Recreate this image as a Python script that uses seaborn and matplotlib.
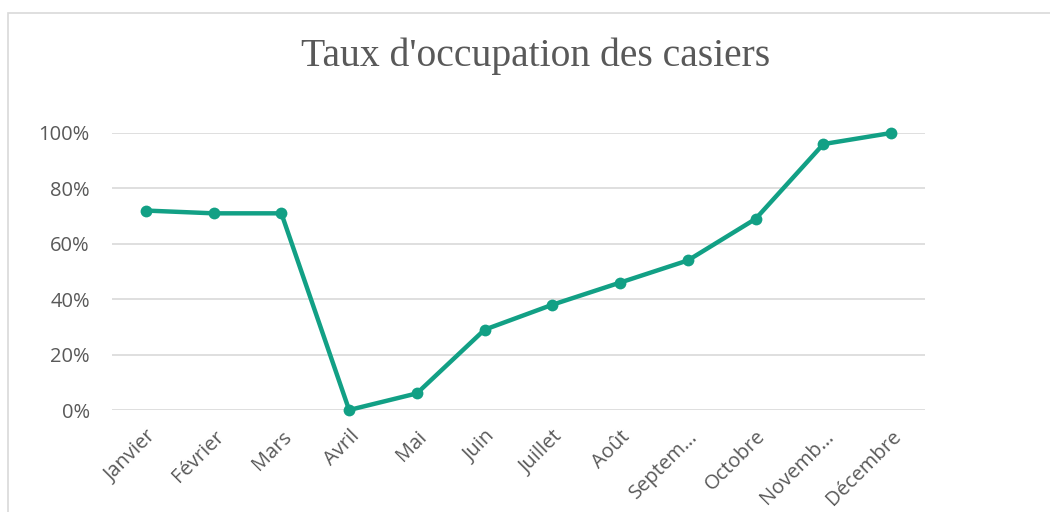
import matplotlib
matplotlib.use('Agg')
import matplotlib.pyplot as plt
import seaborn as sns
import pandas as pd
from matplotlib.patches import Rectangle
from matplotlib.ticker import PercentFormatter

sns.set_theme(style='white')
plt.rcParams['font.family'] = ['Open Sans', 'DejaVu Sans']

# données
mois = ['Janvier', 'Février', 'Mars', 'Avril', 'Mai', 'Juin', 'Juillet',
        'Août', 'Septem…', 'Octobre', 'Novemb…', 'Décembre']
taux = [72, 71, 71, 0, 6, 29, 38, 46, 54, 69, 96, 100]

df = pd.DataFrame({'mois': mois, 'taux': taux})
df['pos'] = range(len(df))

gris = '#595959'
vert = '#12a085'

fig = plt.figure(figsize=(10.5, 5.12), dpi=100)
ax = fig.add_axes([112 / 1050, 1 - 410 / 512, 813 / 1050, 277 / 512])

# cadre du graphique
fig.patches.append(Rectangle((8 / 1050, -0.1), 1.2, 1 - 13 / 512 + 0.1,
                             transform=fig.transFigure, fill=False,
                             edgecolor='#d9d9d9', linewidth=1.2))

sns.lineplot(data=df, x='pos', y='taux', ax=ax, color=vert, linewidth=3.2,
             marker='o', markersize=8.5, markeredgewidth=0, clip_on=False)

ax.set_xlim(-0.5, len(mois) - 0.5)
ax.set_ylim(0, 100)
ax.set_yticks(range(0, 101, 20))
ax.yaxis.set_major_formatter(PercentFormatter(decimals=0))
ax.set_xticks(df['pos'])
ax.set_xticklabels(mois, rotation=45, ha='right', rotation_mode='anchor')
ax.tick_params(axis='both', length=0, labelsize=14.5, colors=gris)
ax.tick_params(axis='x', pad=12)
ax.tick_params(axis='y', pad=16)
ax.set_xlabel('')
ax.set_ylabel('')

ax.grid(axis='y', color='#d9d9d9', linewidth=1.2)
ax.set_axisbelow(True)
for s in ax.spines.values():
    s.set_visible(False)

fig.text(0.51, 1 - 56 / 512, "Taux d'occupation des casiers", ha='center',
         va='center', fontsize=28.5, color=gris, family='Liberation Serif')

fig.savefig('out.png', dpi=100)
